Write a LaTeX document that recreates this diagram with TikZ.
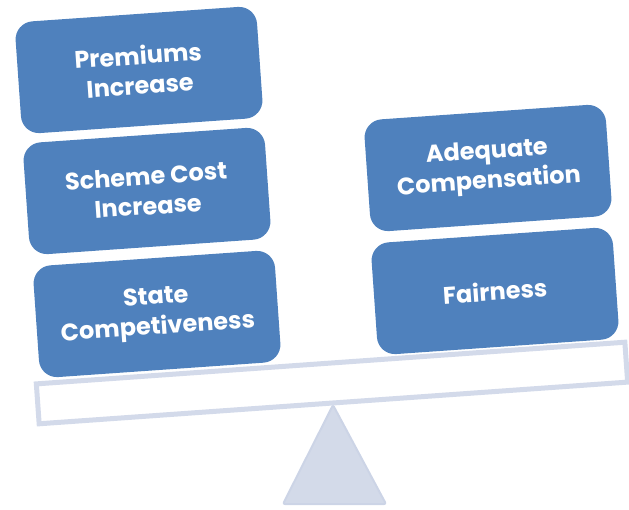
\documentclass[tikz,border=0pt]{standalone}
\usepackage{fontspec}
\setmainfont{Poppins}
\definecolor{boxblue}{HTML}{4F81BD}
\definecolor{beamgray}{HTML}{D3DAEA}
\definecolor{pivotfill}{HTML}{D3DAE9}
\definecolor{pivotedge}{HTML}{CCD4E6}
\begin{document}
\begin{tikzpicture}[x=1pt,y=-1pt,
  weight/.style={rounded corners=18pt, fill=boxblue, text=white,
    minimum width=242pt, minimum height=112pt, rotate=4,
    align=center, font=\fontsize{24}{30}\selectfont\bfseries, inner sep=0pt},
  beam/.style={draw=beamgray, line width=5pt, fill=white,
    minimum width=590pt, minimum height=40pt, rotate=4.05, inner sep=0pt}]
\useasboundingbox (0,0) rectangle (629,509);

% fulcrum
\draw[fill=pivotfill, draw=pivotedge, line width=2pt, rounded corners=2pt]
  (333,405) -- (386,504) -- (283,504) -- cycle;

% seesaw beam
\node[beam] (plank) at (332,383) {};

% left stack
\node[weight] (state)  at (157,314) {State\\Competiveness};
\node[weight] (scheme) at (147,191) {Scheme Cost\\Increase};
\node[weight] (prem)   at (139,70)  {Premiums\\Increase};

% right stack
\node[weight] (fair) at (495,291) {Fairness};
\node[weight] (adeq) at (488,168) {Adequate\\Compensation};
\end{tikzpicture}
\end{document}
